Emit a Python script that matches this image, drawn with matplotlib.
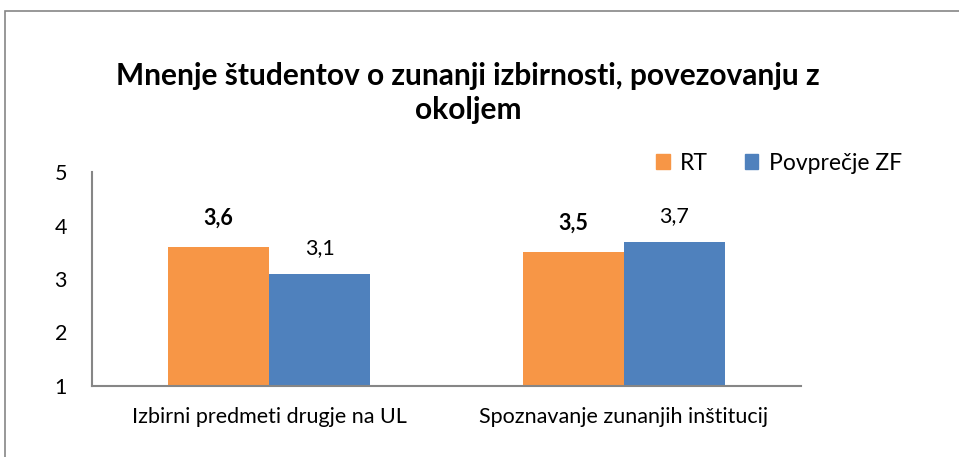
import matplotlib
matplotlib.use("Agg")
import matplotlib.pyplot as plt
from matplotlib.patches import Rectangle, Patch
import numpy as np

plt.rcParams['font.family'] = ['Lato', 'DejaVu Sans']

categories = ["Izbirni predmeti drugje na UL", "Spoznavanje zunanjih inštitucij"]
series_names = ["RT", "Povprečje ZF"]
rt_values = [3.6, 3.5]
zf_values = [3.1, 3.7]
rt_labels = ["3,6", "3,5"]
zf_labels = ["3,1", "3,7"]
yticks = [1, 2, 3, 4, 5]

c_rt = "#F79646"
c_zf = "#4F81BD"

fig = plt.figure(figsize=(9.59, 4.57), dpi=100)
fig.patches.append(Rectangle((4.5/959, -0.1), 1.2, 1 - 11/457 + 0.1,
                             transform=fig.transFigure, fill=False,
                             edgecolor="#868686", linewidth=1.2))

ax = fig.add_axes([92/959, 1 - 386/457, (801-92)/959, (386-172)/457])
x = np.arange(len(categories))
w = 0.285
ax.bar(x - w/2, np.array(rt_values) - 1, w, bottom=1, color=c_rt, label=series_names[0])
ax.bar(x + w/2, np.array(zf_values) - 1, w, bottom=1, color=c_zf, label=series_names[1])

for xi, v, lab in zip(x - w/2, rt_values, rt_labels):
    ax.annotate(lab, (xi, v), xytext=(0, 13), textcoords="offset points",
                ha="center", va="bottom", fontsize=15.5, fontweight="bold")
for xi, v, lab in zip(x + w/2, zf_values, zf_labels):
    ax.annotate(lab, (xi, v), xytext=(0, 11), textcoords="offset points",
                ha="center", va="bottom", fontsize=15.5)

ax.set_xlim(-0.5, 1.5)
ax.set_ylim(1, 5)
ax.set_yticks(yticks)
ax.set_xticks(x)
ax.set_xticklabels(categories)
ax.tick_params(axis="both", length=0, labelsize=15.5)
ax.tick_params(axis="y", pad=18)
ax.tick_params(axis="x", pad=15)
for s in ["top", "right"]:
    ax.spines[s].set_visible(False)
for s in ["left", "bottom"]:
    ax.spines[s].set_color("#868686")
    ax.spines[s].set_linewidth(1.5)

fig.text(468/959, 1 - 93/457, "Mnenje študentov o zunanji izbirnosti, povezovanju z\nokoljem",
         ha="center", va="center", fontsize=21.5, fontweight="bold", linespacing=1.25)

handles = [Patch(color=c_rt), Patch(color=c_zf)]
fig.legend(handles, series_names, loc="center left", bbox_to_anchor=(656/959, 1 - 163/457),
           ncol=2, frameon=False, fontsize=16.5, handlelength=0.6, handleheight=0.6,
           handletextpad=0.45, columnspacing=1.6, borderpad=0, borderaxespad=0)

fig.savefig("out.png", dpi=100)
